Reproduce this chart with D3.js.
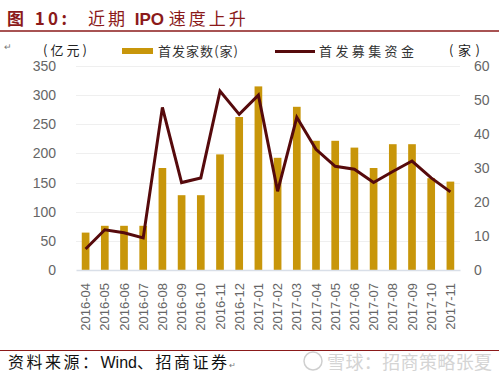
<!DOCTYPE html>
<html>
<head>
<meta charset="utf-8">
<script src="https://cdn.jsdelivr.net/npm/d3@7"></script>
<style>
  body { margin: 0; background: #fff; }
  svg { display: block; }
</style>
</head>
<body>
<div id="chart"></div>
<script>
// data
const months = ["2016-04","2016-05","2016-06","2016-07","2016-08","2016-09","2016-10","2016-11","2016-12",
  "2017-01","2017-02","2017-03","2017-04","2017-05","2017-06","2017-07","2017-08","2017-09","2017-10","2017-11"];
const ipoCount = [11, 13, 13, 13, 30, 22, 22, 34, 45, 54, 33, 48, 38, 38, 36, 30, 37, 37, 27, 26];
const ipoFunds = [36, 69, 64, 55, 279, 150, 158, 307, 267, 300, 135, 262, 207, 178, 173, 150, 169, 187, 158, 134];
const leftTicks = [0, 50, 100, 150, 200, 250, 300, 350];
const rightTicks = [0, 10, 20, 30, 40, 50, 60];

const W = 499, H = 376;
const margin = {top: 66, right: 39, bottom: 106, left: 76};
const width = W - margin.left - margin.right,
      height = H - margin.top - margin.bottom;

const cjk = "'Noto Sans CJK SC', sans-serif";
const num = "'Liberation Sans', Arial, sans-serif";
const red = "#8b1a1a";

const root = d3.select("#chart").append("svg")
    .attr("width", W)
    .attr("height", H);

// title + rules
root.append("text")
    .attr("x", 7).attr("y", 25)
    .attr("textLength", 60).attr("lengthAdjust", "spacing")
    .style("font-family", cjk).style("font-size", "17px").style("font-weight", "bold")
    .style("fill", red)
    .text("图 10:");
const t = root.append("text")
    .attr("x", 88).attr("y", 25)
    .style("font-family", cjk).style("font-size", "17px")
    .style("fill", red);
t.append("tspan").style("letter-spacing", "3px").text("近期 ");
t.append("tspan").style("font-weight", "bold").style("font-family", num).text("IPO ");
t.append("tspan").style("letter-spacing", "3px").text("速度上升");
root.append("line")
    .attr("x1", 0).attr("x2", W).attr("y1", 31).attr("y2", 31)
    .style("stroke", red).style("stroke-width", 1.5);
root.append("line")
    .attr("x1", 0).attr("x2", W).attr("y1", 350.5).attr("y2", 350.5)
    .style("stroke", red).style("stroke-width", 1.2);

root.append("text").attr("x", 4).attr("y", 50)
    .style("font-size", "9px").style("fill", "#777").style("font-family", cjk).text("↵");

const svg = root.append("g")
    .attr("transform", `translate(${margin.left},${margin.top})`);

// scales
const x = d3.scaleBand().domain(months).range([0, width]).paddingInner(0.6).paddingOuter(0.3);
const yL = d3.scaleLinear().domain([0, 350]).range([height, 0]);
const yR = d3.scaleLinear().domain([0, 60]).range([height, 0]);

// grid
svg.append("g")
    .selectAll("line")
    .data(leftTicks.slice(1))
    .join("line")
    .attr("x1", 0).attr("x2", width)
    .attr("y1", d => Math.round(yL(d)) + 0.5).attr("y2", d => Math.round(yL(d)) + 0.5)
    .style("stroke", "#efefef");

// left axis
const gl = svg.append("g")
    .style("font-family", num).style("font-size", "14px")
    .call(d3.axisLeft(yL).tickValues(leftTicks).tickSize(0).tickPadding(20));
gl.select(".domain").remove();
gl.selectAll("text").style("fill", "#666");

// right axis
const gr = svg.append("g")
    .attr("transform", `translate(${width},0)`)
    .style("font-family", num).style("font-size", "14px")
    .call(d3.axisRight(yR).tickValues(rightTicks).tickSize(0).tickPadding(14));
gr.select(".domain").remove();
gr.selectAll("text").style("fill", "#666");

// bars
svg.append("g")
    .selectAll("rect")
    .data(months)
    .join("rect")
    .attr("x", d => x(d))
    .attr("y", (d, i) => yR(ipoCount[i]))
    .attr("width", x.bandwidth())
    .attr("height", (d, i) => height - yR(ipoCount[i]))
    .style("fill", "#c8960a");

// bottom axis
const gx = svg.append("g")
    .attr("transform", `translate(0,${height})`)
    .style("font-family", num).style("font-size", "13px")
    .call(d3.axisBottom(x).tickSize(0).tickPadding(0));
gx.select(".domain").style("stroke", "#d9dfe8").style("stroke-width", 1.5);
gx.selectAll("text")
    .style("fill", "#666")
    .style("text-anchor", "end")
    .attr("transform", "rotate(-90)")
    .attr("dx", "-13")
    .attr("dy", "0.35em")
    .attr("y", 0);

// line
const line = d3.line()
    .x((d, i) => x(months[i]) + x.bandwidth() / 2)
    .y(d => yL(d));
svg.append("path")
    .datum(ipoFunds)
    .attr("d", line)
    .style("fill", "none")
    .style("stroke", "#560a0c")
    .style("stroke-width", 3)
    .style("stroke-linejoin", "miter");

// unit labels + legend
root.append("text").attr("x", 43).attr("y", 55)
    .attr("textLength", 44).attr("lengthAdjust", "spacing")
    .style("font-family", cjk).style("font-size", "13px").style("fill", "#222").text("(亿元)");
root.append("text").attr("x", 449).attr("y", 55)
    .attr("textLength", 31).attr("lengthAdjust", "spacing")
    .style("font-family", cjk).style("font-size", "13px").style("fill", "#222").text("(家)");

root.append("rect").attr("x", 122).attr("y", 48).attr("width", 31).attr("height", 6)
    .style("fill", "#c8960a");
root.append("text").attr("x", 158).attr("y", 56)
    .attr("textLength", 80).attr("lengthAdjust", "spacing")
    .style("font-family", cjk).style("font-size", "13px").style("fill", "#333").text("首发家数(家)");
root.append("line").attr("x1", 275).attr("x2", 315).attr("y1", 51.5).attr("y2", 51.5)
    .style("stroke", "#560a0c").style("stroke-width", 3);
root.append("text").attr("x", 319).attr("y", 56)
    .attr("textLength", 95).attr("lengthAdjust", "spacing")
    .style("font-family", cjk).style("font-size", "13px").style("fill", "#333").text("首发募集资金");

// source
const src = root.append("text").attr("x", 8).attr("y", 368)
    .style("font-family", cjk).style("font-size", "16px").style("fill", "#111");
src.append("tspan").style("letter-spacing", "2.5px").text("资料来源：");
src.append("tspan").style("font-family", num).text("Wind");
src.append("tspan").style("letter-spacing", "2.5px").text("、招商证券");
src.append("tspan").style("font-size", "8px").style("fill", "#777").text("↵");

// watermark
root.append("circle").attr("cx", 313).attr("cy", 361).attr("r", 9)
    .style("fill", "none").style("stroke", "#cfcfcf").style("stroke-width", 1.5);
root.append("text").attr("x", 327).attr("y", 369)
    .attr("textLength", 165).attr("lengthAdjust", "spacing")
    .style("font-family", cjk).style("font-size", "18px").style("fill", "#d4d4d4")
    .text("雪球：招商策略张夏");
</script>
</body>
</html>
